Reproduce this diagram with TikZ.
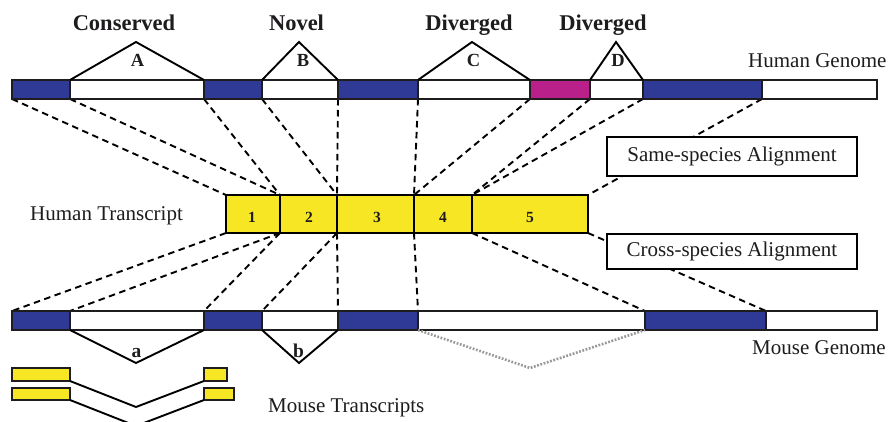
\documentclass[tikz,border=0pt]{standalone}
\usepackage{fontspec}
\setmainfont{Liberation Serif}
\definecolor{exonblue}{RGB}{46,58,150}
\definecolor{exonmag}{RGB}{185,32,137}
\definecolor{txyellow}{RGB}{246,230,35}
\definecolor{ink}{RGB}{30,28,30}
\pgfdeclarelayer{background}
\pgfsetlayers{background,main}

\begin{document}
\begin{tikzpicture}[x=1pt,y=-1pt,
  span/.style 2 args={minimum width={(#2-#1)*1pt}},
  gseg/.style={draw=ink, line width=1.9pt, inner sep=0pt, outer sep=0pt,
    minimum height=19pt, anchor=north west, fill=white},
  tseg/.style={draw=black, line width=2.5pt, inner sep=0pt, outer sep=0pt,
    minimum height=38pt, anchor=north west, fill=txyellow},
  mtx/.style={draw=ink, line width=1.7pt, inner sep=0pt, outer sep=0pt,
    minimum height=12pt, anchor=north west, fill=txyellow},
  lbox/.style={draw=black, line width=1.9pt, fill=white, inner sep=0pt,
    minimum width=250pt, font=\fontsize{21}{24}\selectfont, text=ink},
  linkline/.style={draw=black, line width=1.9pt, dash pattern=on 6.5pt off 4.5pt},
  intron/.style={draw=black, line width=1.9pt},
  lighttrack/.style={draw=black!40, line width=2.6pt, dash pattern=on 1.8pt off 1.6pt},
  plain/.style={font=\fontsize{21}{24}\selectfont, text=ink, inner sep=0pt},
  header/.style={font=\fontsize{22.5}{26}\selectfont\bfseries, text=ink, inner sep=0pt, anchor=base},
  letter/.style={font=\fontsize{18.5}{21}\selectfont\bfseries, text=ink, inner sep=0pt, anchor=base},
  digit/.style={font=\fontsize{15.5}{18}\selectfont\bfseries, text=ink, inner sep=0pt, anchor=base}]

\useasboundingbox (0,0) rectangle (889,422);
\clip (0,0) rectangle (889,422);

% human genome
\node[gseg, span={12}{70}, fill=exonblue] (h1) at (12,80) {};
\node[gseg, span={70}{204}] (h2) at (70,80) {};
\node[gseg, span={204}{262}, fill=exonblue] (h3) at (204,80) {};
\node[gseg, span={262}{338}] (h4) at (262,80) {};
\node[gseg, span={338}{418}, fill=exonblue] (h5) at (338,80) {};
\node[gseg, span={418}{530}] (h6) at (418,80) {};
\node[gseg, span={530}{590}, fill=exonmag] (h7) at (530,80) {};
\node[gseg, span={590}{643}] (h8) at (590,80) {};
\node[gseg, span={643}{762}, fill=exonblue] (h9) at (643,80) {};
\node[gseg, span={762}{877}] (h10) at (762,80) {};

% human transcript
\node[tseg, span={226}{280}] (t1) at (226,195) {};
\node[tseg, span={280}{337}] (t2) at (280,195) {};
\node[tseg, span={337}{414}] (t3) at (337,195) {};
\node[tseg, span={414}{472}] (t4) at (414,195) {};
\node[tseg, span={472}{588}] (t5) at (472,195) {};
\node[digit] (d1) at (252,223) {1};
\node[digit] (d2) at (309,223) {2};
\node[digit] (d3) at (377,223) {3};
\node[digit] (d4) at (443,223) {4};
\node[digit] (d5) at (530,223) {5};

% mouse genome
\node[gseg, span={12}{70}, fill=exonblue] (m1) at (12,311) {};
\node[gseg, span={70}{204}] (m2) at (70,311) {};
\node[gseg, span={204}{262}, fill=exonblue] (m3) at (204,311) {};
\node[gseg, span={262}{338}] (m4) at (262,311) {};
\node[gseg, span={338}{418}, fill=exonblue] (m5) at (338,311) {};
\node[gseg, span={418}{645}] (m6) at (418,311) {};
\node[gseg, span={645}{766}, fill=exonblue] (m7) at (645,311) {};
\node[gseg, span={766}{877}] (m8) at (766,311) {};

% alignment legend boxes
\node[lbox, minimum height=39pt] (same) at (732,156.5) {Same-species Alignment};
\node[lbox, minimum height=35pt] (cross) at (732,251.5) {Cross-species Alignment};

% alignment links
\begin{pgfonlayer}{background}
  \draw[linkline] (h1.south west) -- (t1.north west);
  \draw[linkline] (h1.south east) -- (t1.north east);
  \draw[linkline] (h3.south west) -- (t2.north west);
  \draw[linkline] (h3.south east) -- (t2.north east);
  \draw[linkline] (h5.south west) -- (t3.north west);
  \draw[linkline] (h5.south east) -- (t3.north east);
  \draw[linkline] (h7.south west) -- (t4.north west);
  \draw[linkline] (h7.south east) -- (t4.north east);
  \draw[linkline] (h9.south west) -- (t5.north west);
  \draw[linkline] (h9.south east) -- (t5.north east);
  \draw[linkline] (t1.south west) -- (m1.north west);
  \draw[linkline] (t1.south east) -- (m1.north east);
  \draw[linkline] (t2.south west) -- (m3.north west);
  \draw[linkline] (t2.south east) -- (m3.north east);
  \draw[linkline] (t3.south west) -- (m5.north west);
  \draw[linkline] (t3.south east) -- (m5.north east);
  \draw[linkline] (t5.south west) -- (m7.north west);
  \draw[linkline] (t5.south east) -- (m7.north east);
\end{pgfonlayer}

% introns above the human genome
\coordinate (pA) at (136,42);
\coordinate (pB) at (299,42);
\coordinate (pC) at (472,42);
\coordinate (pD) at (616,42);
\draw[intron] (h2.north west) -- (pA) -- (h2.north east);
\draw[intron] (h4.north west) -- (pB) -- (h4.north east);
\draw[intron] (h6.north west) -- (pC) -- (h6.north east);
\draw[intron] (h8.north west) -- (pD) -- (h8.north east);
\node[letter] (lA) at (137.5,67) {A};
\node[letter] (lB) at (303,67) {B};
\node[letter] (lC) at (473.5,67) {C};
\node[letter] (lD) at (618,67) {D};
\node[header] (hdA) at (124,31) {Conserved};
\node[header] (hdB) at (296.5,31) {Novel};
\node[header] (hdC) at (469,31) {Diverged};
\node[header] (hdD) at (603,31) {Diverged};

% introns below the mouse genome
\coordinate (pa) at (136,363);
\coordinate (pb) at (299,363);
\coordinate (pc) at (530,368);
\draw[intron] (m2.south west) -- (pa) -- (m2.south east);
\draw[intron] (m4.south west) -- (pb) -- (m4.south east);
\draw[lighttrack] (m6.south west) -- (pc) -- (m6.south east);
\node[letter, font=\fontsize{19.5}{22}\selectfont\bfseries] (la) at (136.5,357) {a};
\node[letter, font=\fontsize{19.5}{22}\selectfont\bfseries] (lb) at (298.5,357) {b};

% mouse transcripts
\node[mtx, span={12}{70}, minimum height=13pt] (r1) at (12,368) {};
\node[mtx, span={204}{227}, minimum height=13pt] (r2) at (204,368) {};
\node[mtx, span={12}{70}] (r3) at (12,388) {};
\node[mtx, span={204}{234}] (r4) at (204,388) {};
\coordinate (q1) at (136,407);
\coordinate (q2) at (136,426);
\draw[intron] (r1.south east) -- (q1) -- (r2.south west);
\draw[intron] (r3.south east) -- (q2) -- (r4.south west);

% track labels
\node[plain, anchor=base west] (lhg) at (748,68) {Human Genome};
\node[plain, anchor=base west] (lht) at (30,221) {Human Transcript};
\node[plain, anchor=base west] (lmg) at (752,354) {Mouse Genome};
\node[plain, anchor=base west] (lmt) at (268,412) {Mouse Transcripts};
\end{tikzpicture}
\end{document}
